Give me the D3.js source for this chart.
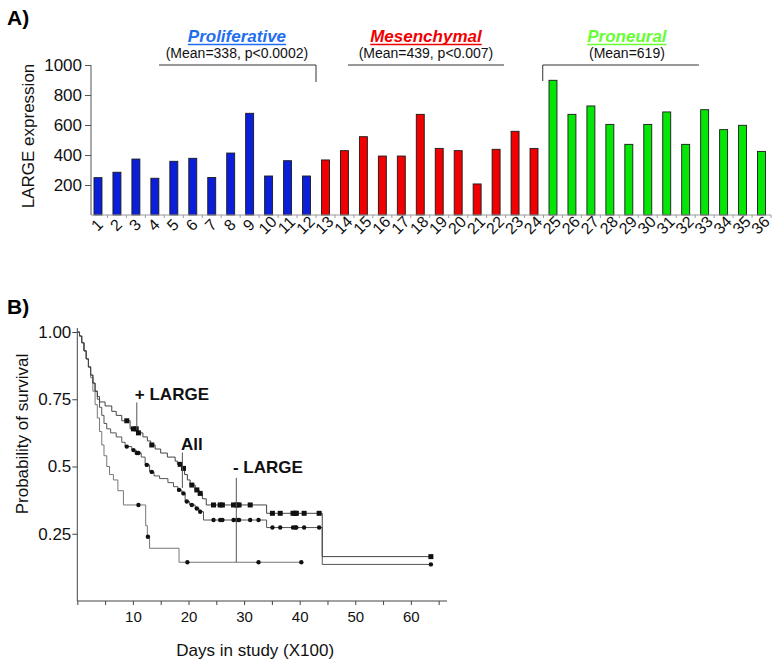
<!DOCTYPE html>
<html><head><meta charset="utf-8">
<script src="https://cdnjs.cloudflare.com/ajax/libs/d3/7.8.5/d3.min.js"></script>
<style>
body{margin:0;background:#fff}
svg{display:block;font-family:"Liberation Sans",Arial,sans-serif}
</style>
</head><body>
<svg id="c" width="779" height="663"></svg>
<script>
// ---------- Panel A data ----------
const categories = ["1","2","3","4","5","6","7","8","9","10","11","12","13","14","15","16","17","18","19","20","21","22","23","24","25","26","27","28","29","30","31","32","33","34","35","36"];
const expression = [249,285,373,245,358,378,250,413,678,260,362,260,
                    367,429,522,393,393,671,444,429,207,438,558,444,
                    898,671,727,604,471,604,687,471,702,569,598,424];
const subtypeIndex = [0,0,0,0,0,0,0,0,0,0,0,0,1,1,1,1,1,1,1,1,1,1,1,1,2,2,2,2,2,2,2,2,2,2,2,2];
const subtypeNames = ["Proliferative","Mesenchymal","Proneural"];
const subtypeStats = ["(Mean=338, p<0.0002)","(Mean=439, p<0.007)","(Mean=619)"];
const yTicksA = [200,400,600,800,1000];

// ---------- Panel B data (Kaplan-Meier, x in days/100) ----------
const plusLarge = [[0,1],[0.4,0.985],[0.8,0.96],[1.2,0.93],[1.6,0.9],[2.0,0.87],[2.4,0.84],[2.8,0.81],[3.2,0.78],[3.6,0.76],[4.0,0.74],[5.0,0.725],[6.2,0.705],[7.0,0.69],[8.0,0.67],[9.5,0.64],[10.8,0.625],[11.8,0.61],[12.6,0.595],[13.2,0.58],[14.0,0.565],[15.0,0.55],[16.2,0.535],[17.6,0.52],[18.0,0.508],[18.8,0.493],[19.3,0.47],[19.8,0.45],[20.3,0.431],[21.2,0.413],[21.9,0.40],[22.5,0.38],[23.2,0.357],[34.05,0.326],[44.06,0.165],[63.6,0.165]];
const allPatients = [[0,1],[0.4,0.985],[0.8,0.96],[1.2,0.93],[1.6,0.9],[2.0,0.87],[2.4,0.84],[2.8,0.81],[3.2,0.78],[3.6,0.75],[4.0,0.72],[4.4,0.69],[4.8,0.66],[5.3,0.64],[6.0,0.625],[7.0,0.61],[8.0,0.59],[8.6,0.574],[9.8,0.561],[10.6,0.55],[11.5,0.535],[12.2,0.506],[13.0,0.48],[13.8,0.465],[14.8,0.455],[16.3,0.44],[17.3,0.425],[18.1,0.413],[18.8,0.40],[19.4,0.37],[20.2,0.357],[21.2,0.344],[21.9,0.332],[22.7,0.301],[34.05,0.273],[44.06,0.136],[63.6,0.136]];
const minusLarge = [[0,1],[0.4,0.985],[0.8,0.96],[1.2,0.93],[1.6,0.9],[2.0,0.87],[2.4,0.83],[2.8,0.78],[3.2,0.73],[3.6,0.68],[4.0,0.63],[4.4,0.58],[4.8,0.54],[5.3,0.50],[5.8,0.47],[6.5,0.45],[7.3,0.41],[8.3,0.357],[12.3,0.28],[12.6,0.239],[13.0,0.196],[18.3,0.144],[40.3,0.144]];
const plusCensored = [8.9,10.1,10.6,11.0,13.4,18.5,19.1,20.6,21.5,22.1,24.5,25.7,26.1,28.1,28.7,29.1,31.1,35.1,36.5,38.8,39.2,39.4,40.8,43.5,63.6];
const allCensored = [8.9,10.1,10.7,11.0,12.5,13.4,18.3,19.1,19.7,20.6,21.5,22.1,24.5,25.7,26.1,28.1,28.7,29.1,31.1,32.6,35.1,36.5,38.8,39.2,39.4,40.8,43.5,63.6];
const minusCensored = [11.0,12.7,19.8,32.6,40.3];
const xTicksB = [0,5,10,15,20,25,30,35,40,45,50,55,60,65];
const yTicksB = [0.25,0.5,0.75,1.0];
const yTickLabelsB = ["0.25","0.5","0.75","1.00"];

// ---------- styles ----------
const barFill = ["#0b1fd8","#f00000","#06e606"];
const titleFill = ["#1e6ef0","#f00000","#66ff33"];
const FONT = "Liberation Sans, Arial, sans-serif";

const svg = d3.select("#c");

// ================= Panel A =================
const xA = d3.scaleBand().domain(categories).range([88.5,771]).paddingInner(0.58).paddingOuter(0.29);
const idx = d3.scaleLinear().domain([0,36]).range([88.5,771]);
const yA = d3.scaleLinear().domain([0,1000]).range([215,65]);

svg.append("text").attr("x",7).attr("y",25).attr("font-size",21).attr("font-weight","bold").text("A)");

const gA = svg.append("g");
gA.selectAll("rect.bar").data(expression).join("rect")
  .attr("class","bar")
  .attr("x",(d,i)=>xA(categories[i]))
  .attr("y",d=>yA(d))
  .attr("width",xA.bandwidth())
  .attr("height",d=>yA(0)-yA(d))
  .attr("fill",(d,i)=>barFill[subtypeIndex[i]])
  .attr("stroke","#1a1a1a").attr("stroke-width",0.9);

// y axis
const yAxisA = gA.append("g").attr("transform",`translate(91,0)`)
  .call(d3.axisLeft(yA).tickValues(yTicksA).tickSize(6).tickPadding(3).tickFormat(d3.format("d")));
yAxisA.select(".domain").remove();
yAxisA.selectAll("line").attr("stroke","#555");
yAxisA.selectAll("text").attr("font-size",17).attr("fill","#111").attr("font-family",FONT);
gA.append("line").attr("x1",91).attr("x2",91).attr("y1",yA(1000)).attr("y2",yA(0)).attr("stroke","#555");
// x axis
gA.append("line").attr("x1",91).attr("x2",771).attr("y1",yA(0)).attr("y2",yA(0)).attr("stroke","#999");
gA.selectAll("line.xt").data(d3.range(1,37)).join("line").attr("class","xt")
  .attr("x1",d=>idx(d)).attr("x2",d=>idx(d)).attr("y1",yA(0)).attr("y2",yA(0)+3).attr("stroke","#99a");
gA.selectAll("text.xl").data(categories).join("text").attr("class","xl")
  .attr("transform",d=>`translate(${xA(d)+xA.bandwidth()/2-1},225) rotate(-45)`)
  .attr("text-anchor","middle").attr("dominant-baseline","central")
  .attr("font-size",16).attr("fill","#111").text(d=>d);
gA.append("text").attr("transform","translate(34,136) rotate(-90)").attr("text-anchor","middle")
  .attr("font-size",17).attr("fill","#111").text("LARGE expression");

// group headers & brackets
const headerCenter = [7.83,17.8,28.4];
const bracketFrom = [3.72,13.69,23.96];
const bracketTo = [12,21.92,32.2];
subtypeNames.forEach((name,k)=>{
  const cx = idx(headerCenter[k]);
  const t = gA.append("text").attr("x",cx).attr("y",42).attr("text-anchor","middle")
    .attr("font-size",17).attr("font-weight","bold").attr("font-style","italic")
    .attr("fill",titleFill[k]).text(name);
  const w = t.node().getComputedTextLength();
  gA.append("line").attr("x1",cx-w/2).attr("x2",cx+w/2).attr("y1",44.5).attr("y2",44.5)
    .attr("stroke",titleFill[k]).attr("stroke-width",1.3);
  gA.append("text").attr("x",cx).attr("y",58).attr("text-anchor","middle")
    .attr("font-size",14).attr("fill","#111").text(subtypeStats[k]);
  gA.append("line").attr("x1",idx(bracketFrom[k])).attr("x2",idx(bracketTo[k])).attr("y1",65).attr("y2",65)
    .attr("stroke","#333").attr("stroke-width",1);
});
gA.append("line").attr("x1",idx(12)).attr("x2",idx(12)).attr("y1",65).attr("y2",82).attr("stroke","#333");
gA.append("line").attr("x1",idx(23.96)).attr("x2",idx(23.96)).attr("y1",65).attr("y2",81).attr("stroke","#333");

// ================= Panel B =================
const xB = d3.scaleLinear().domain([0,66.5]).range([77.3,447]);
const yB = d3.scaleLinear().domain([0,1]).range([601,332]);
svg.append("text").attr("x",7).attr("y",314).attr("font-size",21).attr("font-weight","bold").text("B)");
const gB = svg.append("g");

const xAxisB = gB.append("g").attr("transform",`translate(0,601)`)
  .call(d3.axisBottom(xB).tickValues(xTicksB).tickSize(4).tickPadding(6).tickFormat(d=>(d>0&&d%10===0)?d:""));
xAxisB.select(".domain").remove();
xAxisB.selectAll("line").attr("stroke","#444");
xAxisB.selectAll("text").attr("font-size",15).attr("fill","#111").attr("font-family",FONT);
gB.append("line").attr("x1",xB(0)).attr("x2",xB(66.5)).attr("y1",601).attr("y2",601).attr("stroke","#444");

const yAxisB = gB.append("g").attr("transform",`translate(77.3,0)`)
  .call(d3.axisLeft(yB).tickValues(yTicksB).tickSize(5).tickPadding(1).tickFormat((d,i)=>yTickLabelsB[i]));
yAxisB.select(".domain").remove();
yAxisB.selectAll("line").attr("stroke","#444");
yAxisB.selectAll("text").attr("font-size",17).attr("fill","#111").attr("font-family",FONT);
gB.append("line").attr("x1",77.3).attr("x2",77.3).attr("y1",601).attr("y2",328).attr("stroke","#444");

gB.append("text").attr("x",xB(32)).attr("y",656).attr("text-anchor","middle").attr("font-size",17).attr("fill","#111").text("Days in study (X100)");
gB.append("text").attr("transform","translate(28,434) rotate(-90)").attr("text-anchor","middle").attr("font-size",17).attr("fill","#111").text("Probability of survival");

const stepLine = d3.line().x(d=>xB(d[0])).y(d=>yB(d[1])).curve(d3.curveStepAfter);
function survAt(curve,x){ let y=curve[0][1]; for(const p of curve){ if(p[0]<=x) y=p[1]; } return y; }

gB.append("path").datum(minusLarge).attr("d",stepLine).attr("fill","none").attr("stroke","#777").attr("stroke-width",1);
gB.append("path").datum(allPatients).attr("d",stepLine).attr("fill","none").attr("stroke","#555").attr("stroke-width",1);
gB.append("path").datum(plusLarge).attr("d",stepLine).attr("fill","none").attr("stroke","#444").attr("stroke-width",1);

gB.selectAll("rect.cp").data(plusCensored).join("rect").attr("class","cp")
  .attr("x",d=>xB(d)-2.5).attr("y",d=>yB(survAt(plusLarge,d))-2.5).attr("width",5).attr("height",5).attr("fill","#111");
gB.selectAll("circle.ca").data(allCensored).join("circle").attr("class","ca")
  .attr("cx",d=>xB(d)).attr("cy",d=>yB(survAt(allPatients,d))).attr("r",2.2).attr("fill","#111");
gB.selectAll("circle.cm").data(minusCensored).join("circle").attr("class","cm")
  .attr("cx",d=>xB(d)).attr("cy",d=>yB(survAt(minusLarge,d))).attr("r",2.2).attr("fill","#111");

// annotations
const annotations = [
  {label:"+ LARGE", tx:10.35, ty:0.747, lx:10.7, y1:0.738, y2:0.636},
  {label:"All",     tx:18.65, ty:0.561, lx:18.9, y1:0.552, y2:0.42},
  {label:"- LARGE", tx:28.0,  ty:0.477, lx:28.6, y1:0.458, y2:0.144}
];
annotations.forEach(a=>{
  gB.append("text").attr("x",xB(a.tx)).attr("y",yB(a.ty)).attr("font-size",17).attr("font-weight","bold").attr("fill","#111").text(a.label);
  gB.append("line").attr("x1",xB(a.lx)).attr("x2",xB(a.lx)).attr("y1",yB(a.y1)).attr("y2",yB(a.y2)).attr("stroke","#555").attr("stroke-width",1);
});
</script>
</body></html>
